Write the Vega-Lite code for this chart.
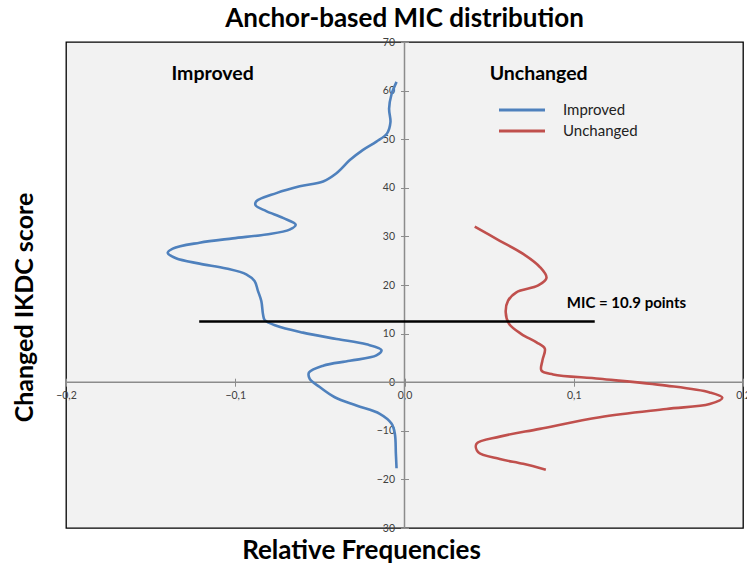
{
  "$schema": "https://vega.github.io/schema/vega-lite/v6.json",
  "width": 677,
  "height": 486,
  "autosize": {"type": "none"},
  "padding": {"left": 66, "top": 42, "right": 4, "bottom": 39},
  "background": "white",
  "title": {"text": "Anchor-based MIC distribution", "font": "Lato", "fontSize": 26, "fontWeight": "bold", "color": "black", "anchor": "middle", "offset": 5},
  "config": {
    "view": {"fill": "#f2f2f2", "stroke": "black", "strokeWidth": 1.3},
    "font": "Lato"
  },
  "datasets": {
    "curves": [
      {"series": "Improved", "x": -0.0047, "y": 61.8},
      {"series": "Improved", "x": -0.0077, "y": 59.2},
      {"series": "Improved", "x": -0.0091, "y": 56.3},
      {"series": "Improved", "x": -0.0083, "y": 53.5},
      {"series": "Improved", "x": -0.0103, "y": 51.2},
      {"series": "Improved", "x": -0.0166, "y": 49.5},
      {"series": "Improved", "x": -0.0245, "y": 47.8},
      {"series": "Improved", "x": -0.0323, "y": 45.7},
      {"series": "Improved", "x": -0.0402, "y": 43.0},
      {"series": "Improved", "x": -0.0481, "y": 41.3},
      {"series": "Improved", "x": -0.0619, "y": 40.3},
      {"series": "Improved", "x": -0.0757, "y": 38.9},
      {"series": "Improved", "x": -0.0876, "y": 37.2},
      {"series": "Improved", "x": -0.088, "y": 36.4},
      {"series": "Improved", "x": -0.0817, "y": 35.2},
      {"series": "Improved", "x": -0.0718, "y": 33.8},
      {"series": "Improved", "x": -0.0643, "y": 32.4},
      {"series": "Improved", "x": -0.0679, "y": 31.4},
      {"series": "Improved", "x": -0.0817, "y": 30.4},
      {"series": "Improved", "x": -0.1014, "y": 29.6},
      {"series": "Improved", "x": -0.1211, "y": 28.7},
      {"series": "Improved", "x": -0.1369, "y": 27.5},
      {"series": "Improved", "x": -0.1399, "y": 26.6},
      {"series": "Improved", "x": -0.135, "y": 25.5},
      {"series": "Improved", "x": -0.1211, "y": 24.4},
      {"series": "Improved", "x": -0.1053, "y": 23.4},
      {"series": "Improved", "x": -0.0935, "y": 22.2},
      {"series": "Improved", "x": -0.0886, "y": 20.8},
      {"series": "Improved", "x": -0.0866, "y": 18.8},
      {"series": "Improved", "x": -0.0846, "y": 16.7},
      {"series": "Improved", "x": -0.0836, "y": 14.0},
      {"series": "Improved", "x": -0.0826, "y": 12.8},
      {"series": "Improved", "x": -0.0757, "y": 11.6},
      {"series": "Improved", "x": -0.06, "y": 10.2},
      {"series": "Improved", "x": -0.0402, "y": 8.9},
      {"series": "Improved", "x": -0.0225, "y": 7.8},
      {"series": "Improved", "x": -0.0136, "y": 6.6},
      {"series": "Improved", "x": -0.0166, "y": 5.5},
      {"series": "Improved", "x": -0.0323, "y": 4.4},
      {"series": "Improved", "x": -0.0481, "y": 3.4},
      {"series": "Improved", "x": -0.0564, "y": 2.0},
      {"series": "Improved", "x": -0.056, "y": 0.7},
      {"series": "Improved", "x": -0.0501, "y": -1.0},
      {"series": "Improved", "x": -0.0412, "y": -3.1},
      {"series": "Improved", "x": -0.0284, "y": -4.8},
      {"series": "Improved", "x": -0.0146, "y": -6.5},
      {"series": "Improved", "x": -0.0077, "y": -8.5},
      {"series": "Improved", "x": -0.0057, "y": -10.6},
      {"series": "Improved", "x": -0.0051, "y": -14.7},
      {"series": "Improved", "x": -0.0047, "y": -17.7},
      {"series": "Unchanged", "x": 0.0415, "y": 32.0},
      {"series": "Unchanged", "x": 0.0563, "y": 29.1},
      {"series": "Unchanged", "x": 0.0701, "y": 26.4},
      {"series": "Unchanged", "x": 0.08, "y": 23.7},
      {"series": "Unchanged", "x": 0.0839, "y": 21.5},
      {"series": "Unchanged", "x": 0.079, "y": 19.9},
      {"series": "Unchanged", "x": 0.0661, "y": 18.5},
      {"series": "Unchanged", "x": 0.0612, "y": 16.8},
      {"series": "Unchanged", "x": 0.0598, "y": 14.4},
      {"series": "Unchanged", "x": 0.0618, "y": 12.0},
      {"series": "Unchanged", "x": 0.0691, "y": 9.9},
      {"series": "Unchanged", "x": 0.078, "y": 8.2},
      {"series": "Unchanged", "x": 0.0829, "y": 6.9},
      {"series": "Unchanged", "x": 0.0815, "y": 4.5},
      {"series": "Unchanged", "x": 0.0809, "y": 2.4},
      {"series": "Unchanged", "x": 0.0878, "y": 1.6},
      {"series": "Unchanged", "x": 0.1154, "y": 0.7},
      {"series": "Unchanged", "x": 0.1547, "y": -0.7},
      {"series": "Unchanged", "x": 0.1803, "y": -2.1},
      {"series": "Unchanged", "x": 0.1878, "y": -3.2},
      {"series": "Unchanged", "x": 0.1803, "y": -4.5},
      {"series": "Unchanged", "x": 0.1547, "y": -5.5},
      {"series": "Unchanged", "x": 0.1154, "y": -7.2},
      {"series": "Unchanged", "x": 0.0799, "y": -9.6},
      {"series": "Unchanged", "x": 0.0563, "y": -11.2},
      {"series": "Unchanged", "x": 0.0425, "y": -12.7},
      {"series": "Unchanged", "x": 0.0435, "y": -14.4},
      {"series": "Unchanged", "x": 0.0563, "y": -15.8},
      {"series": "Unchanged", "x": 0.0701, "y": -16.8},
      {"series": "Unchanged", "x": 0.0835, "y": -18.0}
    ],
    "mic": [{"x": -0.1213, "x2": 0.1124, "y": 12.5}],
    "labels": [
      {"x": -0.1377, "y": 62.1, "text": "Improved", "size": 19.5},
      {"x": 0.0503, "y": 62.1, "text": "Unchanged", "size": 19.5},
      {"x": 0.0959, "y": 15.2, "text": "MIC = 10.9 points", "size": 15}
    ],
    "origin": [{"v": 0}]
  },
  "layer": [
    {
      "data": {"name": "origin"},
      "mark": {"type": "rule", "color": "#8c8c8c", "strokeWidth": 1.5},
      "encoding": {"x": {"field": "v", "type": "quantitative"}}
    },
    {
      "data": {"name": "origin"},
      "mark": {"type": "rule", "color": "#8c8c8c", "strokeWidth": 1.5},
      "encoding": {"y": {"field": "v", "type": "quantitative"}}
    },
    {
      "data": {"name": "curves"},
      "mark": {"type": "line", "interpolate": "catmull-rom", "strokeWidth": 2.6},
      "encoding": {
        "x": {
          "field": "x", "type": "quantitative",
          "scale": {"domain": [-0.2, 0.2], "nice": false, "zero": false},
          "axis": {
            "title": "Relative Frequencies", "orient": "bottom", "offset": -149.8,
            "values": [-0.2, -0.1, 0, 0.1, 0.2], "grid": false, "domain": false,
            "tickColor": "#8c8c8c", "tickSize": 8, "tickWidth": 1,
            "labelExpr": "replace(format(datum.value, '.1f'), '.', ',')",
            "labelFontSize": 10.5, "labelColor": "#404040", "labelPadding": 4,
            "labelFlush": false, "labelOverlap": false,
            "titleFontSize": 26, "titleFontWeight": "bold", "titleColor": "black",
            "titleX": 295, "titleY": 180, "titleBaseline": "alphabetic"
          }
        },
        "y": {
          "field": "y", "type": "quantitative",
          "scale": {"domain": [-30, 70], "nice": false, "zero": false},
          "axis": {
            "title": "Changed IKDC score", "orient": "left", "offset": -342.5,
            "values": [-30, -20, -10, 0, 10, 20, 30, 40, 50, 60, 70], "grid": false, "domain": false,
            "tickColor": "#8c8c8c", "tickSize": 8, "tickWidth": 1,
            "labelFontSize": 10.5, "labelColor": "#404040", "labelPadding": 6,
            "labelFlush": false, "labelOverlap": false,
            "titleFontSize": 25, "titleFontWeight": "bold", "titleColor": "black",
            "titleX": -376.5, "titleY": 265, "titleBaseline": "alphabetic", "titleAngle": -90
          }
        },
        "color": {
          "field": "series", "type": "nominal",
          "scale": {"domain": ["Improved", "Unchanged"], "range": ["#4F81BD", "#C0504D"]},
          "legend": {
            "title": null, "orient": "none", "legendX": 443, "legendY": 55,
            "symbolType": "M-2,0L2,0", "symbolSize": 529, "symbolStrokeWidth": 3,
            "labelFontSize": 15, "labelColor": "#222222", "labelOffset": 28,
            "rowPadding": 0
          }
        },
        "order": {"field": "y", "sort": "descending"}
      }
    },
    {
      "data": {"name": "mic"},
      "mark": {"type": "rule", "color": "black", "strokeWidth": 2.5},
      "encoding": {
        "x": {"field": "x", "type": "quantitative"},
        "x2": {"field": "x2"},
        "y": {"field": "y", "type": "quantitative"}
      }
    },
    {
      "data": {"name": "labels"},
      "mark": {"type": "text", "align": "left", "baseline": "alphabetic", "fontWeight": "bold", "color": "black"},
      "encoding": {
        "x": {"field": "x", "type": "quantitative"},
        "y": {"field": "y", "type": "quantitative"},
        "text": {"field": "text"},
        "size": {"field": "size", "type": "quantitative", "scale": null}
      }
    }
  ]
}
